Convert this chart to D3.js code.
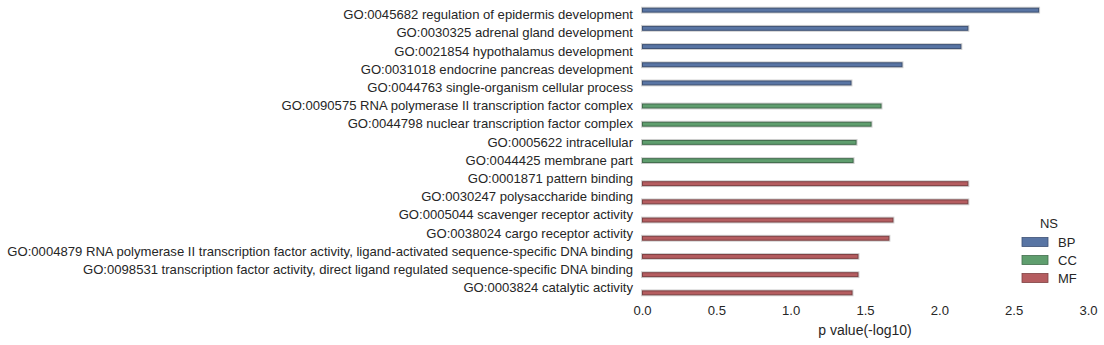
<!DOCTYPE html>
<html>
<head>
<meta charset="utf-8">
<script src="https://cdn.jsdelivr.net/npm/d3@7"></script>
<style>
  html, body { margin: 0; padding: 0; background: #fff; }
  svg { display: block; }
  text { font-family: "Liberation Sans", Arial, sans-serif; fill: #262626; }
</style>
</head>
<body>
<svg id="chart" width="1104" height="345"></svg>
<script>
// ---- data ----
const terms = [
  "GO:0045682 regulation of epidermis development",
  "GO:0030325 adrenal gland development",
  "GO:0021854 hypothalamus development",
  "GO:0031018 endocrine pancreas development",
  "GO:0044763 single-organism cellular process",
  "GO:0090575 RNA polymerase II transcription factor complex",
  "GO:0044798 nuclear transcription factor complex",
  "GO:0005622 intracellular",
  "GO:0044425 membrane part",
  "GO:0001871 pattern binding",
  "GO:0030247 polysaccharide binding",
  "GO:0005044 scavenger receptor activity",
  "GO:0038024 cargo receptor activity",
  "GO:0004879 RNA polymerase II transcription factor activity, ligand-activated sequence-specific DNA binding",
  "GO:0098531 transcription factor activity, direct ligand regulated sequence-specific DNA binding",
  "GO:0003824 catalytic activity"
];
const namespaces = ["BP","BP","BP","BP","BP","CC","CC","CC","CC","MF","MF","MF","MF","MF","MF","MF"];
const pvalues = [2.671, 2.195, 2.148, 1.752, 1.409, 1.611, 1.544, 1.443, 1.423, 2.195, 2.195, 1.691, 1.664, 1.456, 1.456, 1.416];
const nsLevels = ["BP", "CC", "MF"];
const nsColors = ["#5975a4", "#5f9e6e", "#b55d60"];
const nsEdge = ["#3e5275", "#426e4d", "#7f4143"];
const xTicks = [0, 0.5, 1.0, 1.5, 2.0, 2.5, 3.0];
const xLabel = "p value(-log10)";
const legendTitle = "NS";

// ---- layout ----
const svg = d3.select("#chart");
const mLeft = 642, mRight = 1088, mTop = 5.9, mBottom = 297.1;

const x = d3.scaleLinear().domain([0, 3]).range([mLeft, mRight]);
const y = d3.scaleBand().domain(terms).range([mTop, mBottom]).paddingInner(0.2).paddingOuter(0.1);
const hue = d3.scaleBand().domain(nsLevels).range([0, y.bandwidth()]);
const color = d3.scaleOrdinal().domain(nsLevels).range(nsColors);
const edge = d3.scaleOrdinal().domain(nsLevels).range(nsEdge);

const data = terms.map((t, i) => ({ term: t, ns: namespaces[i], v: pvalues[i] }));

// bars: light halo then bar
const g = svg.append("g");
g.selectAll("rect.halo").data(data).join("rect")
  .attr("class", "halo")
  .attr("x", x(0) - 1)
  .attr("y", d => y(d.term) + hue(d.ns) - 1)
  .attr("width", d => x(d.v) - x(0) + 2)
  .attr("height", hue.bandwidth() + 2)
  .attr("fill", "#cfcfcf");
g.selectAll("rect.bar").data(data).join("rect")
  .attr("class", "bar")
  .attr("x", x(0) + 0.5)
  .attr("y", d => y(d.term) + hue(d.ns) + 0.5)
  .attr("width", d => x(d.v) - x(0) - 1)
  .attr("height", hue.bandwidth() - 1)
  .attr("fill", d => color(d.ns))
  .attr("stroke", d => edge(d.ns))
  .attr("stroke-width", 1);

// y axis labels
const yAxis = d3.axisLeft(y).tickSize(0).tickPadding(9);
const ya = svg.append("g").attr("transform", `translate(${mLeft},0)`).call(yAxis);
ya.select(".domain").remove();
ya.selectAll("text").style("font-size", "13.1px").style("font-family", "'Liberation Sans', Arial, sans-serif").attr("fill", "#262626");

// x axis
const xAxis = d3.axisBottom(x).tickValues(xTicks).tickFormat(d3.format(".1f")).tickSize(0).tickPadding(9);
const xa = svg.append("g").attr("transform", `translate(0,${mBottom})`).call(xAxis);
xa.select(".domain").remove();
xa.selectAll("text").style("font-size", "13.1px").style("font-family", "'Liberation Sans', Arial, sans-serif").attr("fill", "#262626");

svg.append("text")
  .attr("x", (mLeft + mRight) / 2)
  .attr("y", 335)
  .attr("text-anchor", "middle")
  .style("font-size", "14px")
  .text(xLabel);

// legend
const lg = svg.append("g");
lg.append("text").attr("x", 1049).attr("y", 228).attr("text-anchor", "middle")
  .style("font-size", "13px").text(legendTitle);
nsLevels.forEach((ns, i) => {
  const yy = 237.5 + i * 18;
  lg.append("rect").attr("x", 1022).attr("y", yy).attr("width", 26).attr("height", 9)
    .attr("fill", color(ns)).attr("stroke", edge(ns)).attr("stroke-width", 0.8);
  lg.append("text").attr("x", 1058).attr("y", yy + 9).style("font-size", "13px").text(ns);
});
</script>
</body>
</html>
